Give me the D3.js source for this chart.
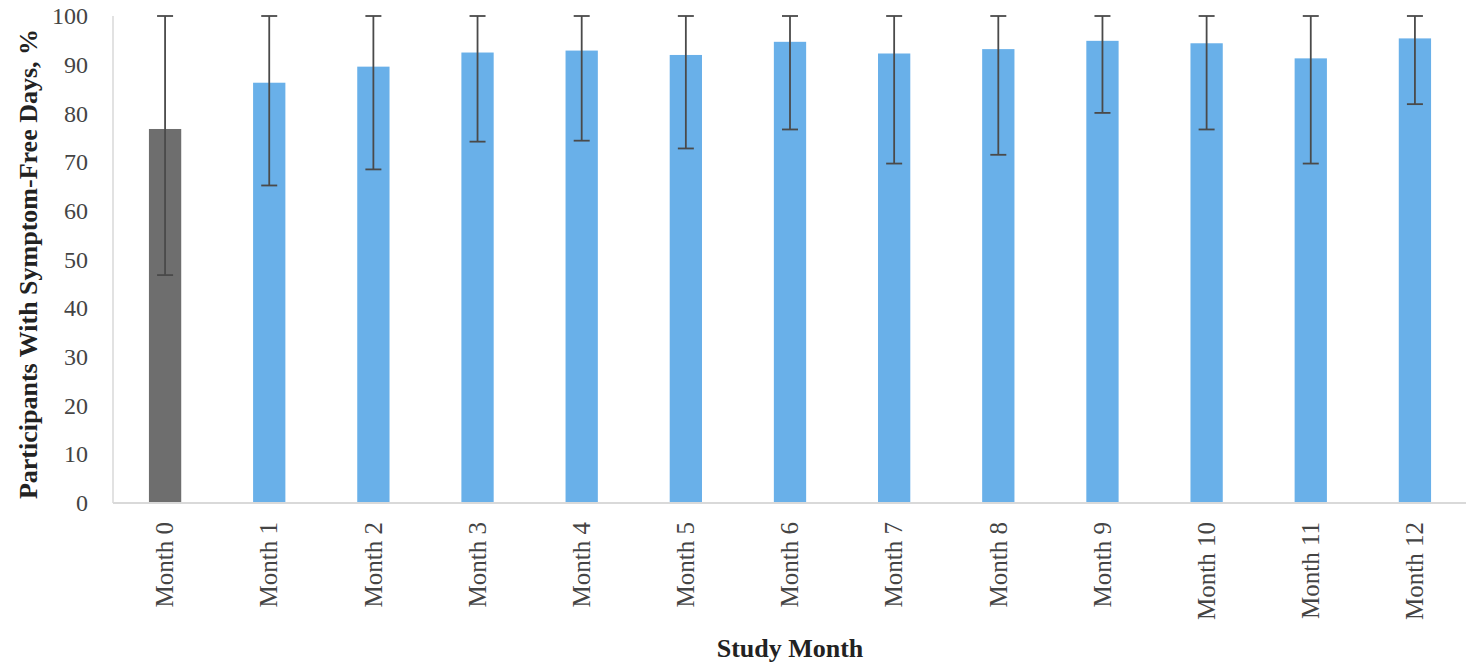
<!DOCTYPE html>
<html>
<head>
<meta charset="utf-8">
<script src="https://cdn.jsdelivr.net/npm/d3@7"></script>
<style>
  html, body { margin: 0; padding: 0; background: #fff; }
  svg { display: block; }
</style>
</head>
<body>
<svg id="chart" width="1466" height="667"></svg>
<script>
// Share of participants with symptom-free days by study month
const months = ["Month 0", "Month 1", "Month 2", "Month 3", "Month 4", "Month 5", "Month 6",
                "Month 7", "Month 8", "Month 9", "Month 10", "Month 11", "Month 12"];
const values = [76.8, 86.3, 89.6, 92.5, 92.9, 92.0, 94.7, 92.3, 93.2, 94.9, 94.4, 91.3, 95.4];
const errLow = [46.8, 65.2, 68.5, 74.2, 74.4, 72.8, 76.7, 69.7, 71.5, 80.1, 76.7, 69.7, 81.9];
const errHigh = [100, 100, 100, 100, 100, 100, 100, 100, 100, 100, 100, 100, 100];
const yTicks = [0, 10, 20, 30, 40, 50, 60, 70, 80, 90, 100];

const svg = d3.select("#chart");
const plot = { left: 113, right: 1467, top: 16, bottom: 503 };

const x = d3.scaleBand().domain(months).range([plot.left, plot.right]).paddingInner(0.69).paddingOuter(0.345);
const y = d3.scaleLinear().domain([0, 100]).range([plot.bottom, plot.top]);

const serif = "'Liberation Serif', 'Times New Roman', serif";

// bars
svg.append("g").selectAll("rect").data(months).join("rect")
  .attr("x", d => x(d))
  .attr("width", x.bandwidth())
  .attr("y", (d, i) => y(values[i]))
  .attr("height", (d, i) => y(0) - y(values[i]))
  .attr("fill", (d, i) => i === 0 ? "#6e6e6e" : "#69b0e9");

// axis lines
svg.append("line").attr("x1", plot.left).attr("x2", plot.left).attr("y1", plot.top).attr("y2", plot.bottom)
  .attr("stroke", "#d9d9d9").attr("stroke-width", 1.5);
svg.append("line").attr("x1", plot.left).attr("x2", plot.right).attr("y1", plot.bottom).attr("y2", plot.bottom)
  .attr("stroke", "#d9d9d9").attr("stroke-width", 2);

// error bars
const eb = svg.append("g").attr("stroke", "#4a4a4a").attr("stroke-width", 1.8);
months.forEach((m, i) => {
  const cx = x(m) + x.bandwidth() / 2;
  eb.append("line").attr("x1", cx).attr("x2", cx).attr("y1", y(errHigh[i])).attr("y2", y(errLow[i]));
  [errHigh[i], errLow[i]].forEach(v => {
    eb.append("line").attr("x1", cx - 8).attr("x2", cx + 8).attr("y1", y(v)).attr("y2", y(v));
  });
});

// y tick labels
const yAxis = d3.axisLeft(y).tickValues(yTicks).tickSize(0).tickPadding(25);
const gy = svg.append("g").attr("transform", `translate(${plot.left},0)`).call(yAxis);
gy.select(".domain").remove();
gy.selectAll("text").attr("font-family", serif).attr("font-size", 24).attr("fill", "#444");

// x tick labels
const xAxis = d3.axisBottom(x).tickSize(0).tickPadding(0);
const gx = svg.append("g").attr("transform", `translate(0,${plot.bottom})`).call(xAxis);
gx.select(".domain").remove();
gx.selectAll("text")
  .attr("font-family", serif).attr("font-size", 25).attr("fill", "#444")
  .attr("text-anchor", "end")
  .attr("transform", "rotate(-90)")
  .attr("x", -19).attr("y", 0).attr("dy", "0.33em");

// axis titles
svg.append("text")
  .attr("transform", `translate(37,264) rotate(-90)`)
  .attr("text-anchor", "middle")
  .attr("font-family", serif).attr("font-weight", "bold").attr("font-size", 26).attr("fill", "#222")
  .text("Participants With Symptom-Free Days, %");

svg.append("text")
  .attr("x", (plot.left + plot.right) / 2).attr("y", 657)
  .attr("text-anchor", "middle")
  .attr("font-family", serif).attr("font-weight", "bold").attr("font-size", 26).attr("fill", "#222")
  .text("Study Month");
</script>
</body>
</html>
